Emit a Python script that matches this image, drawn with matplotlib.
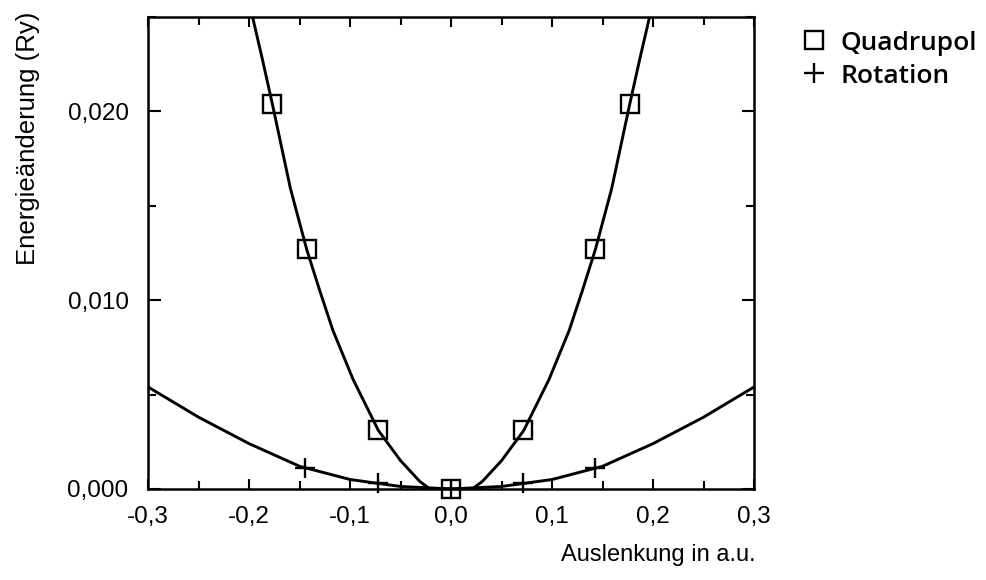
import matplotlib
matplotlib.use("Agg")
import matplotlib.pyplot as plt
from matplotlib.ticker import MultipleLocator

# measured points
quad_x = [-0.177, -0.1426, -0.072, 0.0, 0.071, 0.1426, 0.177]
quad_y = [0.0204, 0.0127, 0.0031, 0.0, 0.0031, 0.0127, 0.0204]
rot_x = [-0.1446, -0.072, 0.0, 0.071, 0.1426]
rot_y = [0.0011, 0.0003, 0.0, 0.0003, 0.0011]

# fitted curves
quad_fit_x = [-0.197, -0.187, -0.177, -0.159, -0.143, -0.13, -0.117, -0.097, -0.072, -0.05, -0.031,
              -0.021, 0.0, 0.021, 0.031, 0.05, 0.072, 0.097, 0.117, 0.13, 0.143, 0.159, 0.177,
              0.187, 0.197]
quad_fit_y = [0.0251, 0.0228, 0.0204, 0.0159, 0.0127, 0.0105, 0.0084, 0.0058, 0.0031, 0.0015, 0.0004,
              0.0, 0.0, 0.0, 0.0004, 0.0015, 0.0031, 0.0058, 0.0084, 0.0105, 0.0127, 0.0159, 0.0204,
              0.0228, 0.0251]
rot_fit_x = [-0.3, -0.25, -0.2, -0.15, -0.1, -0.05, 0.0, 0.05, 0.1, 0.15, 0.2, 0.25, 0.3]
rot_fit_y = [0.0054, 0.0038, 0.0024, 0.0012, 0.0005, 0.00013, 0.0, 0.00013, 0.0005, 0.0012, 0.0024,
             0.0038, 0.0054]

xticks = [-0.3, -0.2, -0.1, 0.0, 0.1, 0.2, 0.3]
xtick_labels = ['-0,3', '-0,2', '-0,1', '0,0', '0,1', '0,2', '0,3']
yticks = [0.0, 0.01, 0.02]
ytick_labels = ['0,000', '0,010', '0,020']

plt.rcParams['font.family'] = ['Liberation Sans', 'DejaVu Sans']

fig = plt.figure(figsize=(9.87, 5.8), dpi=100)
ax = fig.add_axes([0.150, 0.157, 0.614, 0.814])

ax.plot(quad_fit_x, quad_fit_y, color='black', lw=2.1, solid_capstyle='round')
ax.plot(rot_fit_x, rot_fit_y, color='black', lw=2.1, solid_capstyle='round')
ax.plot(quad_x, quad_y, 's', ms=12.5, mfc='none', mec='black', mew=1.7, clip_on=False,
        label='Quadrupol')
ax.plot(rot_x, rot_y, '+', ms=14, mec='black', mew=1.7, clip_on=False, label='Rotation')

ax.set_xlim(-0.3, 0.3)
ax.set_ylim(0.0, 0.025)
ax.set_xticks(xticks)
ax.set_xticklabels(xtick_labels)
ax.set_yticks(yticks)
ax.set_yticklabels(ytick_labels)
ax.xaxis.set_minor_locator(MultipleLocator(0.05))
ax.yaxis.set_minor_locator(MultipleLocator(0.005))
ax.tick_params(which='both', direction='in', top=True, right=True, width=1.5, labelsize=17.5)
ax.tick_params(which='major', length=9)
ax.tick_params(which='minor', length=6)
ax.tick_params(axis='x', which='major', length=7, pad=12)
ax.tick_params(axis='y', pad=14)
for s in ax.spines.values():
    s.set_linewidth(1.8)

fig.text(0.028, 0.762, 'Energieänderung (Ry)', rotation=90, ha='center', va='center', fontsize=18.5)
fig.text(0.766, 0.043, 'Auslenkung in a.u.', ha='right', va='center', fontsize=17)

leg = ax.legend(loc='upper left', bbox_to_anchor=(0.787, 0.988), bbox_transform=fig.transFigure,
                frameon=False, handlelength=1.0, handletextpad=0.5, labelspacing=0.3,
                prop={'family': 'Open Sans', 'weight': 'semibold', 'size': 19})

fig.savefig('out.png', dpi=100)
